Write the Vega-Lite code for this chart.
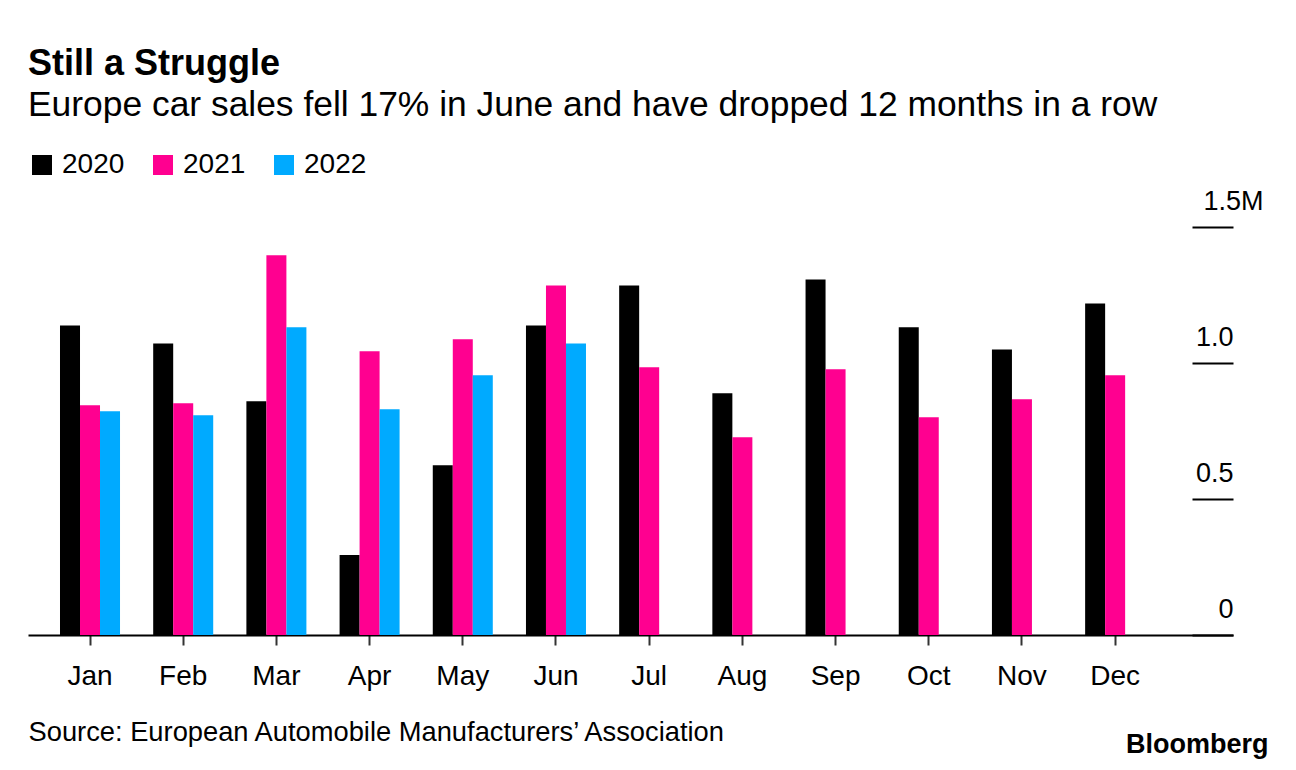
{
  "$schema": "https://vega.github.io/schema/vega-lite/v6.json",
  "autosize": {"type": "none"},
  "width": 1205,
  "height": 408,
  "padding": {"left": 28, "top": 227, "right": 63, "bottom": 135},
  "background": "white",
  "title": {
    "text": "Still a Struggle",
    "subtitle": "Europe car sales fell 17% in June and have dropped 12 months in a row",
    "anchor": "start",
    "frame": "group",
    "orient": "top",
    "offset": 27,
    "font": "Liberation Sans",
    "fontSize": 36,
    "fontWeight": "bold",
    "color": "#000000",
    "subtitleFont": "Liberation Sans",
    "subtitleFontSize": 35.4,
    "subtitleColor": "#000000",
    "subtitlePadding": 5
  },
  "data": {
    "values": [
      {"month": "Jan", "year": "2020", "value": 1.138},
      {"month": "Jan", "year": "2021", "value": 0.845},
      {"month": "Jan", "year": "2022", "value": 0.823},
      {"month": "Feb", "year": "2020", "value": 1.072},
      {"month": "Feb", "year": "2021", "value": 0.852},
      {"month": "Feb", "year": "2022", "value": 0.808},
      {"month": "Mar", "year": "2020", "value": 0.859},
      {"month": "Mar", "year": "2021", "value": 1.396},
      {"month": "Mar", "year": "2022", "value": 1.131},
      {"month": "Apr", "year": "2020", "value": 0.294},
      {"month": "Apr", "year": "2021", "value": 1.043},
      {"month": "Apr", "year": "2022", "value": 0.830},
      {"month": "May", "year": "2020", "value": 0.624},
      {"month": "May", "year": "2021", "value": 1.087},
      {"month": "May", "year": "2022", "value": 0.955},
      {"month": "Jun", "year": "2020", "value": 1.138},
      {"month": "Jun", "year": "2021", "value": 1.285},
      {"month": "Jun", "year": "2022", "value": 1.072},
      {"month": "Jul", "year": "2020", "value": 1.285},
      {"month": "Jul", "year": "2021", "value": 0.984},
      {"month": "Aug", "year": "2020", "value": 0.889},
      {"month": "Aug", "year": "2021", "value": 0.727},
      {"month": "Sep", "year": "2020", "value": 1.307},
      {"month": "Sep", "year": "2021", "value": 0.977},
      {"month": "Oct", "year": "2020", "value": 1.131},
      {"month": "Oct", "year": "2021", "value": 0.801},
      {"month": "Nov", "year": "2020", "value": 1.050},
      {"month": "Nov", "year": "2021", "value": 0.867},
      {"month": "Dec", "year": "2020", "value": 1.219},
      {"month": "Dec", "year": "2021", "value": 0.955}
    ]
  },
  "mark": {"type": "bar", "strokeWidth": 0},
  "encoding": {
    "x": {
      "field": "month",
      "type": "nominal",
      "sort": ["Jan", "Feb", "Mar", "Apr", "May", "Jun", "Jul", "Aug", "Sep", "Oct", "Nov", "Dec"],
      "scale": {"paddingInner": 0.356, "paddingOuter": 0.643, "align": 0.267},
      "axis": {
        "title": "Source: European Automobile Manufacturers’ Association",
        "titleX": 0,
        "titleY": 105,
        "titleAlign": "left",
        "titleAnchor": "start",
        "titleBaseline": "alphabetic",
        "titleFont": "Liberation Sans",
        "titleFontSize": 27.3,
        "titleFontWeight": "normal",
        "titleColor": "#000000",
        "labelAngle": 0,
        "labelFont": "Liberation Sans",
        "labelFontSize": 28,
        "labelColor": "#000000",
        "labelPadding": 17,
        "labelBaseline": "top",
        "domain": true,
        "domainColor": "#000000",
        "domainWidth": 2,
        "ticks": true,
        "tickSize": 10,
        "tickWidth": 2,
        "tickColor": "#333333",
        "grid": false
      }
    },
    "xOffset": {
      "field": "year",
      "type": "nominal",
      "scale": {"paddingInner": 0, "paddingOuter": 0}
    },
    "y": {
      "field": "value",
      "type": "quantitative",
      "scale": {"domain": [0, 1.5], "nice": false, "zero": true},
      "axis": {
        "orient": "right",
        "values": [0, 0.5, 1, 1.5],
        "labelExpr": "datum.value == 0 ? '0' : (datum.value == 1.5 ? '1.5M' : format(datum.value, '.1f'))",
        "domain": false,
        "grid": false,
        "ticks": true,
        "tickSize": -41,
        "tickWidth": 2,
        "tickColor": "#000000",
        "labelPadding": 41,
        "labelAlign": {"condition": {"test": "datum.value == 1.5", "value": "center"}, "value": "right"},
        "labelBaseline": "alphabetic",
        "labelOffset": -18,
        "labelFont": "Liberation Sans",
        "labelFontSize": 27,
        "labelColor": "#000000",
        "labelFlush": false,
        "labelOverlap": false,
        "labelBound": false,
        "title": "Bloomberg",
        "titleAngle": 0,
        "titleX": 35,
        "titleY": 525,
        "titleAlign": "right",
        "titleBaseline": "alphabetic",
        "titleFont": "Liberation Sans",
        "titleFontSize": 27,
        "titleFontWeight": "bold",
        "titleColor": "#000000"
      }
    },
    "color": {
      "field": "year",
      "type": "nominal",
      "scale": {"domain": ["2020", "2021", "2022"], "range": ["#000000", "#ff0090", "#00aaff"]},
      "legend": {
        "title": null,
        "orient": "none",
        "legendX": 0,
        "legendY": -76,
        "direction": "horizontal",
        "symbolType": "square",
        "symbolSize": 400,
        "symbolStrokeWidth": 0,
        "symbolOpacity": 1,
        "labelFont": "Liberation Sans",
        "labelFontSize": 28,
        "labelColor": "#000000",
        "labelOffset": 6,
        "columnPadding": 24
      }
    }
  },
  "config": {
    "view": {"stroke": null},
    "font": "Liberation Sans"
  }
}
